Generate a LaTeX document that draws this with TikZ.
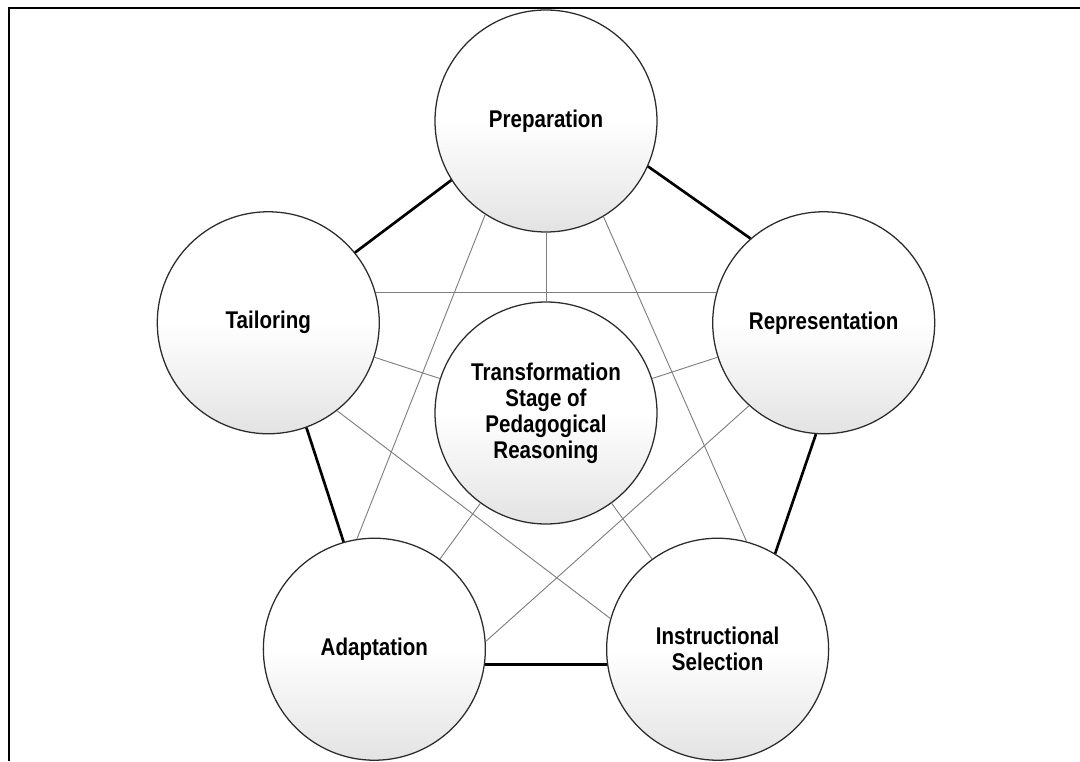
\documentclass[tikz,border=0pt]{standalone}
\usepackage{fontspec}
\setmainfont{Liberation Sans}
\newfontfamily\stagefont[FakeStretch=0.85]{Liberation Sans}
\usepackage{tikz}
\definecolor{rimgray}{HTML}{2B2B2B}
\definecolor{webgray}{HTML}{7E7E7E}
\pgfdeclareverticalshading{ballshade}{100bp}{color(0bp)=(gray!22); color(25bp)=(gray!22); color(50bp)=(white); color(100bp)=(white)}

\begin{document}
\begin{tikzpicture}[stage/.style={draw=rimgray, line width=0.9pt, circle, minimum size=5.55cm, inner sep=0pt,
        shading=ballshade, align=center, font=\stagefont\bfseries\fontsize{17.2}{18.4}\selectfont},
    rim/.style={line width=1.9pt},
    web/.style={webgray, line width=0.65pt}]
        \useasboundingbox (-13.65,-8.7) rectangle (13.35,10.325);
        % Frame (top and left only)
        \draw[line width=1.5pt] (-13.425,-8.7) -- (-13.425,10.125) -- (13.35,10.125);

        % Centre node
        \node (C) [stage] at (0,0) {Transformation\\Stage of\\Pedagogical\\Reasoning};
        % Outer nodes
        \node (P) [stage] at (90:7.3) {Preparation};
        \node (R) [stage] at (18:7.3) {Representation};
        \node (I) [stage] at (-54:7.3) {Instructional\\Selection};
        \node (A) [stage] at (-126:7.3) {Adaptation};
        \node (T) [stage] at (162:7.3) {Tailoring};

        % Pentagon edges
        \draw[rim] (P.212) -- (T.39);
        \draw[rim] (P.336) -- (R.131);
        \draw[rim] (R.266) -- (I.59);
        \draw[rim] (I.188) -- (A.352);
        \draw[rim] (A.106) -- (T.290);

        % Star lines
        \draw[web] (T.16) -- (R.164);
        \draw[web] (P.237) -- (A.99);
        \draw[web] (P.301) -- (I.75);
        \draw[web] (T.308) -- (I.164);
        \draw[web] (R.228) -- (A.4);

        % Spokes from the centre
        \foreach \s in {P,R,I,A,T}
            \draw[web] (C) -- (\s);
    \end{tikzpicture}
\end{document}
